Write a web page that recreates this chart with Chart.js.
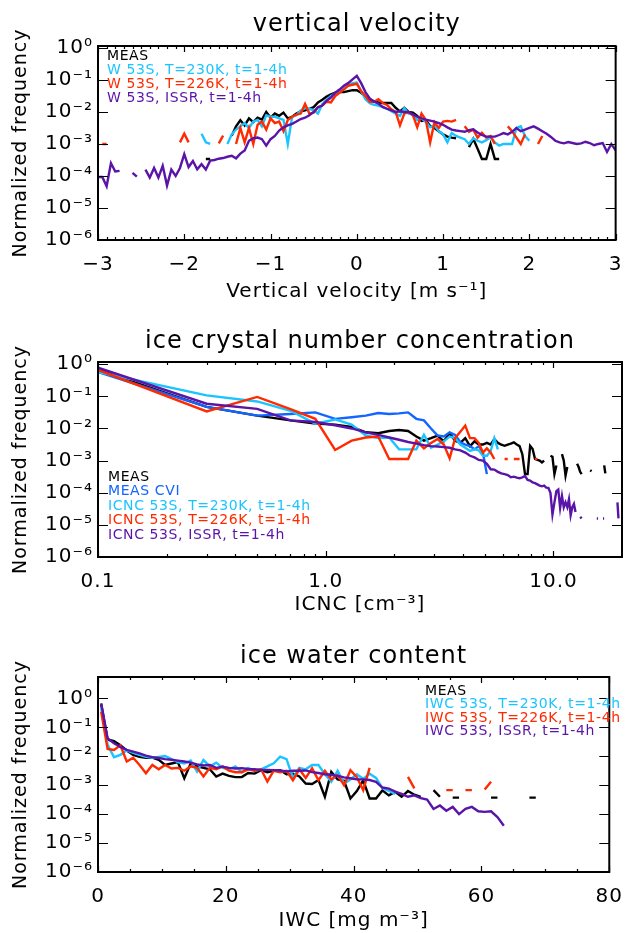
<!DOCTYPE html>
<html>
<head>
<meta charset="utf-8">
<script src="https://cdn.jsdelivr.net/npm/chart.js@4.4.0/dist/chart.umd.min.js"></script>
<style>
  body { margin: 0; background: #fff; }
  #wrap { position: relative; width: 635px; height: 933px; overflow: hidden; }
  canvas { position: absolute; left: 0; }
</style>
</head>
<body>
<div id="wrap">
  <canvas id="wChart" width="635" height="310" style="top:0"></canvas>
  <canvas id="icncChart" width="635" height="310" style="top:310px"></canvas>
  <canvas id="iwcChart" width="635" height="313" style="top:620px"></canvas>
</div>
<script>
const BLACK = '#000000', CYAN = '#1cc4ff', RED = '#ff2a00', PURPLE = '#5a14a8', BLUE = '#1464ff';

// all series values are log10(normalized frequency)

// --- vertical velocity, bins of 0.05 m/s from -3 to 3
const wBins = Array.from({length: 121}, (_, i) => +(-3 + 0.05 * i).toFixed(2));
const wMeas = [
  null,null,null,null,null,null,null,null,null,null,
  null,null,null,null,null,null,null,null,null,null,
  null,null,null,null,null,-3.47,-3.47,null,null,null,
  null,-2.74,-2.45,-2.26,-2.42,-2.2,-2.32,-2.18,-2.24,-2.0,
  -2.18,-2.05,-2.12,-2.02,-2.2,-2.15,-2.05,-1.98,-1.95,-1.9,
  -1.85,-1.7,-1.62,-1.52,-1.45,-1.4,-1.38,-1.38,-1.35,-1.32,
  -1.32,-1.4,-1.52,-1.62,-1.66,-1.7,-1.72,-1.72,-1.72,-1.87,
  -1.98,-1.87,-2.0,-2.02,-2.12,-2.28,-2.26,-2.44,-2.5,-2.6,
  -2.7,-2.77,-2.8,-2.82,null,null,-3.1,-2.84,-3.15,-3.47,
  -3.47,-3.0,-3.47,-3.47
];
const wT230 = [
  null,null,null,null,null,null,null,null,null,null,
  null,null,null,null,null,null,null,null,null,null,
  null,null,null,null,-2.68,-2.95,-3.0,null,null,null,
  -3.0,-2.7,-2.55,-2.45,-2.35,-2.5,-2.3,-2.25,-2.45,-2.1,
  -2.15,-2.15,-2.2,-2.25,-3.0,-2.15,-2.1,-1.95,-1.88,-1.9,
  -1.95,-2.05,-1.75,-1.62,-1.5,-1.42,-1.35,-1.25,-1.18,-1.1,
  -1.08,-1.35,-1.6,-1.73,-1.78,-1.8,-1.85,-1.9,-1.98,-2.05,
  -2.12,-1.88,-2.05,-2.08,-2.25,-2.2,-2.32,-2.48,-2.42,-2.6,
  -2.7,-2.95,-2.66,-2.75,-2.8,-2.85,-3.0,-2.82,-2.9,-2.95,
  -2.88,-2.8,-2.95,-3.05,-3.0,-3.0,-3.0,-2.5,-2.45,-2.75,-2.9
];
const wT226 = [
  null,-3.0,-3.0,null,null,null,null,null,null,null,
  null,null,null,null,null,null,null,null,null,-2.95,
  -2.68,-2.95,null,null,null,null,null,null,-2.98,-2.74,
  null,null,-3.0,-2.5,-2.95,-2.5,-3.0,-2.4,-2.3,-2.55,
  -2.2,-2.35,-2.3,-2.6,-2.25,-2.15,-2.08,-2.05,-1.75,-2.05,
  -2.02,-1.85,-1.8,-1.68,-1.7,-1.5,-1.4,-1.3,-1.18,-1.15,
  -1.12,-1.35,-1.5,-1.68,-1.68,-1.6,-1.72,-1.78,-1.92,-2.0,
  -2.42,-2.05,-2.0,-2.1,-2.48,-2.05,-2.25,-2.95,-2.32,-2.5,
  -2.3,-2.28,-2.3,-2.25,null,-2.45,-2.62,-2.55,-2.8,-2.65,
  -2.8,-2.75,-3.0,null,null,-2.45,-2.6,-2.8,-3.0,-2.7,
  null,null,-3.0,-2.75
];
const wIssr = [
  -4.03,-4.03,-4.32,-3.6,-3.86,-3.84,null,null,-3.9,-4.02,
  null,-3.8,-4.05,-3.75,-4.05,-3.68,-4.3,-3.8,-4.0,-3.75,
  -3.32,-3.72,-3.53,-3.79,-3.63,-3.8,-3.52,-3.5,-3.46,-3.44,
  -3.4,-3.37,-3.45,-3.3,-3.2,-2.9,-2.82,-2.8,-2.85,-3.05,
  -2.85,-2.75,-2.58,-2.48,-2.42,-2.37,-2.3,-2.22,-2.18,-2.1,
  -2.0,-1.85,-1.8,-1.65,-1.55,-1.4,-1.3,-1.18,-1.1,-0.98,
  -0.87,-1.1,-1.38,-1.58,-1.68,-1.74,-1.84,-1.9,-1.95,-2.0,
  -1.98,-2.0,-2.0,-2.08,-2.15,-2.2,-2.24,-2.27,-2.3,-2.35,
  -2.4,-2.48,-2.55,-2.58,-2.6,-2.62,-2.57,-2.54,-2.64,-2.72,
  -2.77,-2.77,-2.77,-2.72,-2.66,-2.7,-2.62,-2.5,-2.6,-2.55,
  -2.5,-2.45,-2.52,-2.6,-2.68,-2.78,-2.9,-2.95,-2.98,-2.94,
  -2.97,-3.0,-2.98,-2.93,-2.97,-3.04,-3.0,-2.97,-3.25,-3.0,-3.2
];
const wTicks = [-3, -2, -1, 0, 1, 2, 3];

// --- ICNC, bins of 0.2 cm-3 starting at 0.1
const icncBins = Array.from({length: 100}, (_, j) => +(0.1 + 0.2 * j).toFixed(1));
const icncMeas = [
  -0.18,-1.33,-1.6,-1.75,-1.85,-1.88,-1.95,-2.12,-2.15,-2.08,
  -2.05,-2.08,-2.25,-2.38,-2.3,-2.22,-2.4,-2.15,-2.38,-2.45,
  -2.3,-2.55,-2.4,-2.5,-2.5,-2.45,-2.5,-2.33,-2.45,-2.5,
  -2.54,-2.5,-2.47,-2.43,-2.5,-2.55,-2.8,-3.42,-3.42,-2.54,
  -2.64,-2.95,-2.98,-3.0,-3.06,-3.0,null,null,-2.85,-2.88,
  -3.42,-3.15,null,null,-2.8,-3.0,-3.47,-3.2,null,null,
  null,null,null,-3.1,-3.2,-3.35,-3.42,null,null,null,
  null,null,-3.3,-3.33,null,null,null,null,null,null,
  null,null,null,-3.15,-3.4
];
const icncCvi = [
  -0.24,-1.33,-1.6,-1.55,-1.5,-1.7,-1.65,-1.6,-1.52,-1.55,
  -1.53,-1.5,-1.7,-1.75,-2.0,-2.22,-2.25,-2.12,-2.2,-2.43,
  -2.5,-2.55,-2.65,-2.55,-2.75,-3.42
];
const icncT230 = [
  -0.24,-0.97,-1.16,-1.45,-1.85,-1.72,-1.88,-2.22,-2.3,-2.28,
  -2.65,-2.65,-2.65,-2.2,-2.6,-2.5,-2.4,-2.25,-2.3,-2.5,
  -2.6,-2.7,-2.65,-2.68,-2.85,-2.85,-2.7,-2.3,-2.65
];
const icncT226 = [
  -0.18,-1.47,-1.02,-1.4,-1.7,-2.67,-2.38,-2.28,-2.25,-2.95,
  -2.95,-2.95,-2.38,-2.62,-2.45,-2.33,-2.5,-2.93,-2.3,-2.1,
  -1.91,-2.3,-2.3,-2.45,-2.75,-2.62,-2.75,-2.95,null,null,
  -2.95,-2.95,null,-2.95,-2.95,-2.95,null,null,null,null,
  null,-2.95,-2.95
];
const icncIssr = [
  -0.11,-1.23,-1.39,-1.75,-1.8,-1.9,-2.0,-2.12,-2.2,-2.28,
  -2.35,-2.42,-2.47,-2.52,-2.55,-2.56,-2.58,-2.6,-2.65,-2.68,
  -2.75,-2.85,-2.9,-2.98,-3.0,-3.1,-3.27,-3.28,-3.35,-3.4,
  -3.42,-3.45,-3.52,-3.5,-3.53,-3.55,-3.52,-3.48,-3.6,-3.62,
  -3.68,-3.7,-3.74,-3.78,-3.8,-3.78,-3.84,-3.85,-4.0,-4.68,
  -4.3,-3.95,-3.9,-4.47,-4.1,-4.45,-4.3,-4.45,-4.2,-4.7,
  -4.45,-4.35,-4.6,null,null,-4.75,-4.8,null,null,null,
  null,null,null,null,null,null,null,-4.8,-4.8,null,
  null,null,-4.8,-4.8,null,null,null,null,null,null,
  null,null,null,null,null,-4.3,-4.8
];
const icncTicks = [0.1, 1, 10];
const icncMinor = [0.2,0.3,0.4,0.5,0.6,0.7,0.8,0.9,2,3,4,5,6,7,8,9];

// --- IWC, bins of 1 mg m-3 centred on 0.5, 1.5, ...
const iwcBins = Array.from({length: 69}, (_, k) => k + 0.5);
const iwcMeas = [
  -0.2,-1.42,-1.48,-1.62,-1.8,-1.95,-2.02,-2.05,-2.05,-2.12,
  -2.3,-2.25,-2.2,-2.76,-2.25,-2.35,-2.4,-2.45,-2.7,-2.6,
  -2.68,-2.72,-2.72,-2.58,-2.6,-2.48,-2.55,-2.5,-2.48,-2.62,
  -2.6,-2.7,-2.94,-2.96,-2.82,-3.4,-2.54,-2.8,-2.85,-3.46,
  -3.2,-2.83,-3.46,-3.46,-3.18,-3.35,-3.23,-3.4,-3.2,-3.33,
  -3.4,null,-3.17,-3.4,null,-3.43,-3.43,null,null,null,
  null,-3.43,-3.43,null,null,null,null,-3.43,-3.43
];
const iwcT230 = [
  -0.35,-1.6,-2.03,-1.95,-1.8,-1.88,-1.95,-2.02,-2.05,-2.02,
  -1.99,-2.1,-2.2,-2.25,-2.15,-2.53,-2.13,-2.35,-2.22,-2.4,
  -2.45,-2.35,-2.55,-2.4,-2.5,-2.45,-2.35,-2.24,-2.01,-2.1,
  -2.75,-2.4,-2.45,-2.3,-2.3,-2.62,-2.88,-2.5,-2.94,-2.8,
  -2.62,-2.78,-2.6,-2.75,-3.1,-3.2,-3.3
];
const iwcT226 = [
  -0.46,-1.75,-1.78,-1.62,-2.18,-2.05,-2.3,-2.59,-2.3,-2.45,
  -2.3,-2.42,-2.4,-2.5,-2.35,-2.4,-2.7,-2.4,-2.45,-2.35,
  -2.5,-2.55,-2.55,-2.45,-2.5,-2.45,-2.87,-2.5,-2.55,-2.5,
  -2.83,-2.45,-2.75,-2.42,-2.83,-2.5,-2.8,-2.65,-3.0,-2.48,
  -2.72,-3.17,-2.4,null,null,null,null,null,-2.71,-3.11,
  null,null,null,null,-3.17,-3.17,null,-3.17,-3.17,null,
  -3.15,-2.88
];
const iwcIssr = [
  -0.17,-1.38,-1.55,-1.68,-1.78,-1.84,-1.9,-1.98,-2.03,-2.06,
  -2.1,-2.12,-2.15,-2.18,-2.22,-2.28,-2.32,-2.3,-2.4,-2.36,
  -2.4,-2.42,-2.41,-2.44,-2.45,-2.47,-2.47,-2.48,-2.49,-2.52,
  -2.5,-2.5,-2.49,-2.55,-2.58,-2.62,-2.64,-2.68,-2.73,-2.76,
  -2.8,-2.8,-2.82,-2.88,-3.08,-3.12,-3.22,-3.3,-3.4,-3.35,
  -3.45,-3.5,-3.82,-3.7,-3.88,-3.75,-4.0,-3.82,-3.75,-3.9,
  -3.92,-3.9,-4.1,-4.4
];
const iwcTicks = [0, 20, 40, 60, 80];
const iwcMinor = [5,10,15,25,30,35,45,50,55,65,70,75];

const decades = [1e-6, 1e-5, 1e-4, 1e-3, 1e-2, 1e-1, 1];

Chart.defaults.font.family = '"DejaVu Sans", sans-serif';
Chart.defaults.color = '#000';

const SUP = {'-': '⁻', '0': '⁰', '1': '¹', '2': '²', '3': '³', '4': '⁴', '5': '⁵', '6': '⁶'};
const sup = n => String(n).split('').map(c => SUP[c]).join('');

// box with inward ticks on all four sides, plus the coloured text legend
const frame = {
  id: 'frame',
  beforeDraw(chart) { chart.ctx.letterSpacing = '1px'; },
  afterDraw(chart, args, o) {
    const {ctx, chartArea: a, scales: {x, y}} = chart;
    ctx.save();
    ctx.strokeStyle = '#000';
    ctx.lineWidth = 1.2;
    ctx.beginPath();
    const xt = (list, len) => list.forEach(v => {
      const p = Math.round(x.getPixelForValue(v)) + 0.5;
      ctx.moveTo(p, a.bottom); ctx.lineTo(p, a.bottom - len);
      ctx.moveTo(p, a.top); ctx.lineTo(p, a.top + len);
    });
    xt(o.xMajor, 6);
    xt(o.xMinor, 3);
    decades.forEach(v => {
      const p = Math.round(y.getPixelForValue(v)) + 0.5;
      if (p < a.top + 1) return;
      ctx.moveTo(a.left, p); ctx.lineTo(a.left + 10, p);
      ctx.moveTo(a.right, p); ctx.lineTo(a.right - 10, p);
    });
    ctx.stroke();
    ctx.lineWidth = 2;
    ctx.strokeRect(a.left, a.top, a.right - a.left, a.bottom - a.top);

    ctx.font = '14px "DejaVu Sans"';
    ctx.letterSpacing = '0.6px';
    ctx.textAlign = 'left';
    ctx.textBaseline = 'middle';
    chart.data.datasets.forEach((d, k) => {
      ctx.fillStyle = d.borderColor;
      ctx.fillText(d.label, o.legendX, o.legendY + k * o.legendDy);
    });
    ctx.restore();
  }
};

function makePanel(id, p) {
  const datasets = p.series.map(s => ({
    label: s.label,
    data: p.bins.map((x, i) => ({x, y: s.logs[i] == null ? null : Math.pow(10, s.logs[i])})),
    borderColor: s.color,
    borderWidth: 2.4,
    pointRadius: 0,
    tension: 0,
    fill: false,
    order: s.order
  }));
  return new Chart(document.getElementById(id), {
    type: 'line',
    data: {datasets},
    options: {
      responsive: false,
      animation: false,
      events: [],
      layout: {padding: {left: 0, right: 13, top: 0, bottom: 0}},
      scales: {
        x: {
          type: p.xType, min: p.xMin, max: p.xMax,
          afterBuildTicks: s => { s.ticks = p.xTicks.map(v => ({value: v})); },
          afterFit: s => { s.height = p.xHeight; },
          ticks: {callback: p.xFmt, autoSkip: false, maxRotation: 0, padding: 13, font: {size: 20}},
          grid: {display: false, drawTicks: false},
          border: {display: false},
          title: {display: true, text: p.xTitle, font: {size: 20}, padding: {top: 0, bottom: p.xTitlePad}}
        },
        y: {
          type: 'logarithmic', min: 1e-6, max: p.yMax,
          afterBuildTicks: s => { s.ticks = decades.map(v => ({value: v})); },
          afterFit: s => { s.width = 98; },
          ticks: {callback: v => '10' + sup(Math.round(Math.log10(v))), autoSkip: false, padding: 5, font: {size: 20}},
          grid: {display: false, drawTicks: false},
          border: {display: false},
          title: {display: true, text: 'Normalized frequency', font: {size: 19}, padding: {top: 10, bottom: 0}}
        }
      },
      plugins: {
        legend: {display: false},
        tooltip: {enabled: false},
        title: {display: true, fullSize: false, text: p.title, font: {size: 24, weight: 'normal'}, padding: {top: p.titleTop, bottom: p.titleBottom}},
        frame: {xMajor: p.xTicks, xMinor: p.xMinor, legendX: p.legendX, legendY: p.legendY, legendDy: p.legendDy}
      }
    },
    plugins: [frame]
  });
}

const wMinor = [];
for (let v = -29; v <= 29; v++) if (v % 10 !== 0) wMinor.push(v / 10);

makePanel('wChart', {
  title: 'vertical velocity', titleTop: 10.6, titleBottom: 6.6,
  bins: wBins, xType: 'linear', xMin: -3, xMax: 3, xTicks: wTicks, xMinor: wMinor,
  xFmt: v => v < 0 ? '−' + Math.abs(v) : String(v),
  xTitle: 'Vertical velocity [m s⁻¹]', xHeight: 70, xTitlePad: 6, yMax: 1.15,
  legendX: 107, legendY: 56, legendDy: 14,
  series: [
    {label: 'MEAS', logs: wMeas, color: BLACK, order: 4},
    {label: 'W 53S, T=230K, t=1-4h', logs: wT230, color: CYAN, order: 2},
    {label: 'W 53S, T=226K, t=1-4h', logs: wT226, color: RED, order: 1},
    {label: 'W 53S, ISSR, t=1-4h', logs: wIssr, color: PURPLE, order: 0}
  ]
});

makePanel('icncChart', {
  title: 'ice crystal number concentration', titleTop: 17.6, titleBottom: 5.6,
  bins: icncBins, xType: 'logarithmic', xMin: 0.1, xMax: 20, xTicks: icncTicks, xMinor: icncMinor,
  xFmt: v => Number(v).toFixed(1),
  xTitle: 'ICNC [cm⁻³]', xHeight: 63, xTitlePad: 3, yMax: 1.17,
  legendX: 108, legendY: 167, legendDy: 14.5,
  series: [
    {label: 'MEAS', logs: icncMeas, color: BLACK, order: 4},
    {label: 'MEAS CVI', logs: icncCvi, color: BLUE, order: 3},
    {label: 'ICNC 53S, T=230K, t=1-4h', logs: icncT230, color: CYAN, order: 2},
    {label: 'ICNC 53S, T=226K, t=1-4h', logs: icncT226, color: RED, order: 1},
    {label: 'ICNC 53S, ISSR, t=1-4h', logs: icncIssr, color: PURPLE, order: 0}
  ]
});

makePanel('iwcChart', {
  title: 'ice water content', titleTop: 22.6, titleBottom: 5.6,
  bins: iwcBins, xType: 'linear', xMin: 0, xMax: 80, xTicks: iwcTicks, xMinor: iwcMinor,
  xFmt: v => String(v),
  xTitle: 'IWC [mg m⁻³]', xHeight: 61, xTitlePad: 0, yMax: 5.5,
  legendX: 425, legendY: 71, legendDy: 13.5,
  series: [
    {label: 'MEAS', logs: iwcMeas, color: BLACK, order: 4},
    {label: 'IWC 53S, T=230K, t=1-4h', logs: iwcT230, color: CYAN, order: 2},
    {label: 'IWC 53S, T=226K, t=1-4h', logs: iwcT226, color: RED, order: 1},
    {label: 'IWC 53S, ISSR, t=1-4h', logs: iwcIssr, color: PURPLE, order: 0}
  ]
});
</script>
</body>
</html>
